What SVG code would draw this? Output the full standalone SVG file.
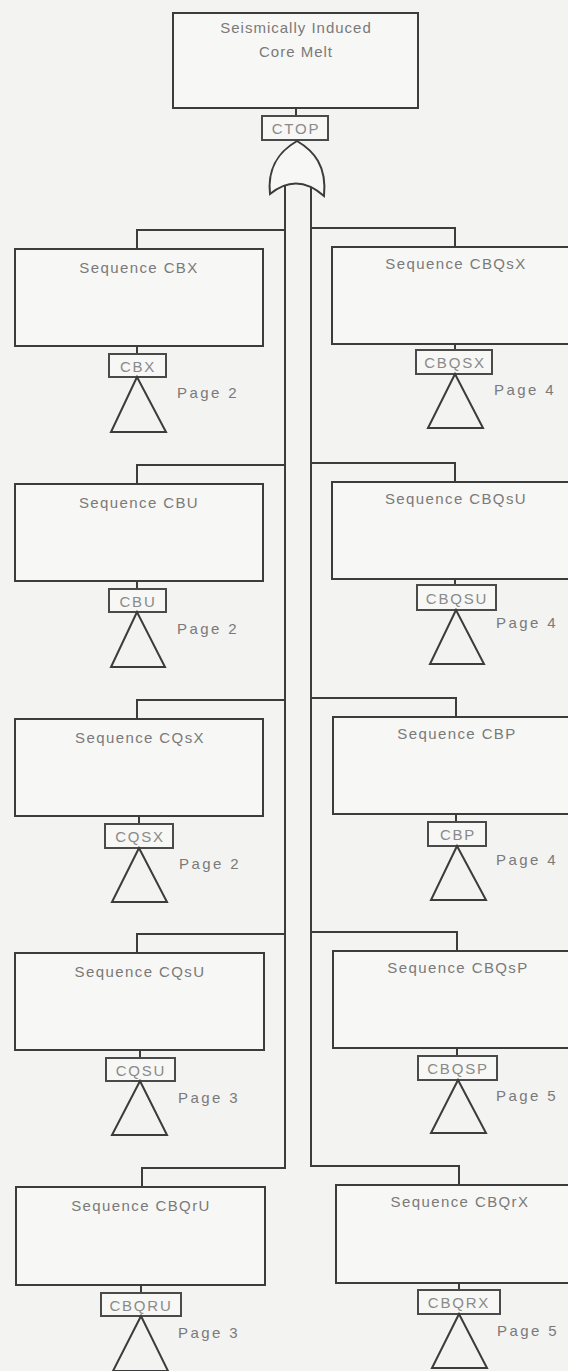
<svg xmlns="http://www.w3.org/2000/svg" width="568" height="1371" viewBox="0 0 568 1371">
<style>
.bg{fill:#f3f3f1}
.box{fill:#f7f7f5;stroke:#3c3c3c;stroke-width:2}
.lbl{fill:#f7f7f5;stroke:#4a4a4a;stroke-width:2}
.tri{fill:none;stroke:#3c3c3c;stroke-width:2;stroke-linejoin:miter}
.ln{fill:none;stroke:#3c3c3c;stroke-width:2}
.t{font-family:"Liberation Sans",Arial,sans-serif;font-size:15px;fill:#7a7a7a;text-anchor:middle;letter-spacing:1.4px}
.lt{font-family:"Liberation Sans",Arial,sans-serif;font-size:15px;fill:#8a8a8a;text-anchor:middle;letter-spacing:1.8px}
.pg{font-family:"Liberation Sans",Arial,sans-serif;font-size:15px;fill:#7a7a7a;letter-spacing:2.4px}
</style>
<rect class="bg" x="0" y="0" width="568" height="1371"/>

<g id="connectors">
  <line class="ln" x1="296" y1="108" x2="296" y2="116"/>
  <path class="ln" d="M285,186 V1168 H142 V1187"/>
  <path class="ln" d="M311,187 V1166 H459 V1185"/>
  <path class="ln" d="M285,230 H137 V249"/>
  <path class="ln" d="M311,228 H455 V247"/>
  <path class="ln" d="M285,465 H137 V484"/>
  <path class="ln" d="M311,463 H455 V482"/>
  <path class="ln" d="M285,700 H137 V719"/>
  <path class="ln" d="M311,698 H456 V717"/>
  <path class="ln" d="M285,934 H137 V953"/>
  <path class="ln" d="M311,932 H457 V951"/>
  <line class="ln" x1="137" y1="346" x2="137" y2="354"/>
  <line class="ln" x1="455" y1="344" x2="455" y2="350"/>
  <line class="ln" x1="137" y1="581" x2="137" y2="589"/>
  <line class="ln" x1="455" y1="579" x2="455" y2="585"/>
  <line class="ln" x1="139" y1="816" x2="139" y2="824"/>
  <line class="ln" x1="456" y1="814" x2="456" y2="822"/>
  <line class="ln" x1="140" y1="1050" x2="140" y2="1058"/>
  <line class="ln" x1="457" y1="1048" x2="457" y2="1056"/>
  <line class="ln" x1="141" y1="1285" x2="141" y2="1293"/>
  <line class="ln" x1="459" y1="1283" x2="459" y2="1290"/>
</g>

<g id="top">
  <rect class="box" x="173" y="13" width="245" height="95"/>
  <text class="t" x="296" y="33" style="letter-spacing:1px">Seismically Induced</text>
  <text class="t" x="296" y="57" style="letter-spacing:1px">Core Melt</text>
  <rect class="lbl" x="262" y="116" width="66" height="24"/>
  <text class="lt" x="296" y="134">CTOP</text>
</g>

<g id="gate">
  <path class="box" d="M270,194 C267,166 280,151 297,141 C314,151 327,166 324,196 Q297,172 270,194 Z"/>
</g>

<g id="cbx">
  <rect class="box" x="15" y="249" width="248" height="97"/>
  <text class="t" x="139" y="273">Sequence CBX</text>
  <rect class="lbl" x="109" y="354" width="57" height="23"/>
  <text class="lt" x="138" y="372">CBX</text>
  <path class="tri" d="M137,377 L111,432 H166 Z"/>
  <text class="pg" x="177" y="398">Page 2</text>
</g>

<g id="cbqsx">
  <rect class="box" x="332" y="247" width="240" height="97"/>
  <text class="t" x="456" y="269">Sequence CBQsX</text>
  <rect class="lbl" x="416" y="350" width="76" height="24"/>
  <text class="lt" x="455" y="368">CBQSX</text>
  <path class="tri" d="M455,374 L428,428 H483 Z"/>
  <text class="pg" x="494" y="395">Page 4</text>
</g>

<g id="cbu">
  <rect class="box" x="15" y="484" width="248" height="97"/>
  <text class="t" x="139" y="508">Sequence CBU</text>
  <rect class="lbl" x="109" y="589" width="57" height="23"/>
  <text class="lt" x="138" y="607">CBU</text>
  <path class="tri" d="M137,612 L111,667 H165 Z"/>
  <text class="pg" x="177" y="634">Page 2</text>
</g>

<g id="cbqsu">
  <rect class="box" x="332" y="482" width="240" height="97"/>
  <text class="t" x="456" y="504">Sequence CBQsU</text>
  <rect class="lbl" x="417" y="585" width="79" height="25"/>
  <text class="lt" x="457" y="604">CBQSU</text>
  <path class="tri" d="M456,610 L430,664 H484 Z"/>
  <text class="pg" x="496" y="628">Page 4</text>
</g>

<g id="cqsx">
  <rect class="box" x="15" y="719" width="248" height="97"/>
  <text class="t" x="140" y="743">Sequence CQsX</text>
  <rect class="lbl" x="105" y="824" width="68" height="24"/>
  <text class="lt" x="140" y="842">CQSX</text>
  <path class="tri" d="M139,848 L112,902 H167 Z"/>
  <text class="pg" x="179" y="869">Page 2</text>
</g>

<g id="cbp">
  <rect class="box" x="333" y="717" width="239" height="97"/>
  <text class="t" x="457" y="739">Sequence CBP</text>
  <rect class="lbl" x="428" y="822" width="58" height="24"/>
  <text class="lt" x="458" y="840">CBP</text>
  <path class="tri" d="M457,846 L431,900 H486 Z"/>
  <text class="pg" x="496" y="865">Page 4</text>
</g>

<g id="cqsu">
  <rect class="box" x="15" y="953" width="249" height="97"/>
  <text class="t" x="140" y="977">Sequence CQsU</text>
  <rect class="lbl" x="106" y="1058" width="69" height="23"/>
  <text class="lt" x="141" y="1076">CQSU</text>
  <path class="tri" d="M140,1081 L112,1135 H167 Z"/>
  <text class="pg" x="178" y="1103">Page 3</text>
</g>

<g id="cbqsp">
  <rect class="box" x="333" y="951" width="239" height="97"/>
  <text class="t" x="458" y="973">Sequence CBQsP</text>
  <rect class="lbl" x="418" y="1056" width="79" height="24"/>
  <text class="lt" x="458" y="1074">CBQSP</text>
  <path class="tri" d="M458,1080 L431,1133 H486 Z"/>
  <text class="pg" x="496" y="1101">Page 5</text>
</g>

<g id="cbqru">
  <rect class="box" x="16" y="1187" width="249" height="98"/>
  <text class="t" x="141" y="1211">Sequence CBQrU</text>
  <rect class="lbl" x="101" y="1293" width="80" height="23"/>
  <text class="lt" x="141" y="1311">CBQRU</text>
  <path class="tri" d="M141,1316 L113,1371 H168 Z"/>
  <text class="pg" x="178" y="1338">Page 3</text>
</g>

<g id="cbqrx">
  <rect class="box" x="336" y="1185" width="236" height="98"/>
  <text class="t" x="460" y="1207">Sequence CBQrX</text>
  <rect class="lbl" x="418" y="1290" width="82" height="24"/>
  <text class="lt" x="459" y="1308">CBQRX</text>
  <path class="tri" d="M459,1314 L432,1368 H487 Z"/>
  <text class="pg" x="497" y="1336">Page 5</text>
</g>
</svg>
